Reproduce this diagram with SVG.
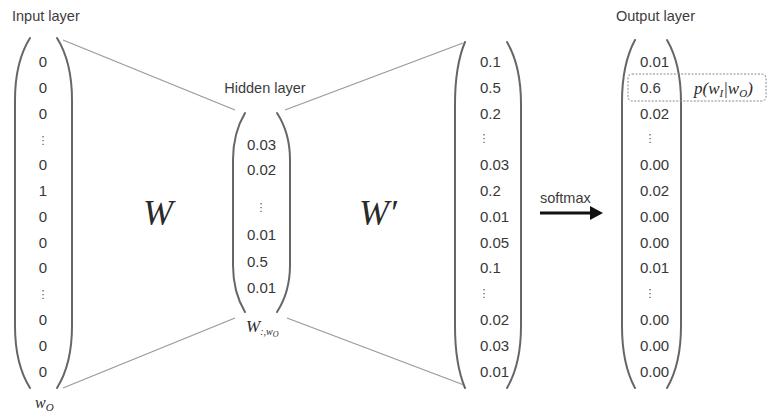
<svg xmlns="http://www.w3.org/2000/svg" width="769" height="413" viewBox="0 0 769 413">
<style>
.lbl{font-family:"Liberation Sans",Arial,sans-serif;font-size:14.5px;fill:#3c3c3c}
.v{font-family:"Liberation Sans",Arial,sans-serif;font-size:15px;fill:#383838}
.dots{font-family:"DejaVu Sans",sans-serif;font-size:11px;fill:#555}
.math{font-family:"Liberation Serif","Times New Roman",serif;font-style:italic;fill:#2a2a2a}
.paren{fill:none;stroke:#666;stroke-width:2;stroke-linecap:round}
.conn{fill:none;stroke:#9a9a9a;stroke-width:1.3}
</style>
<rect width="769" height="413" fill="#fff"/>
<g id="connectors">
<line class="conn" x1="63" y1="40" x2="235" y2="110"/>
<line class="conn" x1="63" y1="388" x2="235" y2="318"/>
<line class="conn" x1="285" y1="110" x2="463" y2="43"/>
<line class="conn" x1="287" y1="318" x2="464" y2="385"/>
<line x1="540" y1="213" x2="592" y2="213" stroke="#111" stroke-width="3"/>
<polygon points="590,206 603,213 590,220" fill="#111"/>
<text class="lbl" x="540" y="203">softmax</text>
</g>
<g id="input-layer">
<text class="lbl" x="12" y="21">Input layer</text>
<path class="paren" d="M30,38 Q15,62 15,100 L15,326 Q15,364 30,388"/>
<path class="paren" d="M57,38 Q72,62 72,100 L72,326 Q72,364 57,388"/>
<g class="v" text-anchor="middle">
<text x="43" y="67">0</text>
<text x="43" y="92.8">0</text>
<text x="43" y="118.6">0</text>
<text x="43" y="170.2">0</text>
<text x="43" y="196">1</text>
<text x="43" y="221.8">0</text>
<text x="43" y="247.6">0</text>
<text x="43" y="273.4">0</text>
<text x="43" y="325">0</text>
<text x="43" y="350.8">0</text>
<text x="43" y="376.6">0</text>
</g>
<text class="dots" x="43" y="144" text-anchor="middle">⋮</text>
<text class="dots" x="43" y="298" text-anchor="middle">⋮</text>
<text class="math" x="35" y="408" font-size="16">w<tspan font-size="11" dy="3">O</tspan></text>
</g>
<g id="weights">
<text class="math" x="143" y="225" font-size="36">W</text>
<text class="math" x="359" y="225" font-size="36">W′</text>
</g>
<g id="hidden-layer">
<text class="lbl" x="265" y="93" text-anchor="middle">Hidden layer</text>
<path class="paren" d="M245,113 Q233,133 233,160 L233,265 Q233,292 245,312"/>
<path class="paren" d="M277,113 Q290,133 290,160 L290,265 Q290,292 277,312"/>
<g class="v">
<text x="247" y="150">0.03</text>
<text x="247" y="175">0.02</text>
<text x="247" y="240">0.01</text>
<text x="247" y="267">0.5</text>
<text x="247" y="293">0.01</text>
</g>
<text class="dots" x="261" y="211" text-anchor="middle">⋮</text>
<text class="math" x="246" y="332" font-size="17">W<tspan font-size="10" dy="3">:,w</tspan><tspan font-size="8" dy="2">O</tspan></text>
</g>
<g id="score-vector">
<path class="paren" d="M465,42 Q455,66 455,104 L455,326 Q455,364 465,388"/>
<path class="paren" d="M507,42 Q521,66 521,104 L521,326 Q521,364 507,388"/>
<g class="v">
<text x="480" y="67">0.1</text>
<text x="480" y="92.8">0.5</text>
<text x="480" y="118.6">0.2</text>
<text x="480" y="170.2">0.03</text>
<text x="480" y="196">0.2</text>
<text x="480" y="221.8">0.01</text>
<text x="480" y="247.6">0.05</text>
<text x="480" y="273.4">0.1</text>
<text x="480" y="325">0.02</text>
<text x="480" y="350.8">0.03</text>
<text x="480" y="376.6">0.01</text>
</g>
<text class="dots" x="484" y="142" text-anchor="middle">⋮</text>
<text class="dots" x="484" y="297" text-anchor="middle">⋮</text>
</g>
<g id="output-layer">
<text class="lbl" x="616" y="21">Output layer</text>
<path class="paren" d="M635,40 Q622,64 622,102 L622,326 Q622,364 635,388"/>
<path class="paren" d="M667,40 Q681,64 681,102 L681,326 Q681,364 667,388"/>
<g class="v">
<text x="640" y="67">0.01</text>
<text x="640" y="92.8">0.6</text>
<text x="640" y="118.6">0.02</text>
<text x="640" y="170.2">0.00</text>
<text x="640" y="196">0.02</text>
<text x="640" y="221.8">0.00</text>
<text x="640" y="247.6">0.00</text>
<text x="640" y="273.4">0.01</text>
<text x="640" y="325">0.00</text>
<text x="640" y="350.8">0.00</text>
<text x="640" y="376.6">0.00</text>
</g>
<text class="dots" x="650" y="142" text-anchor="middle">⋮</text>
<text class="dots" x="650" y="297" text-anchor="middle">⋮</text>
</g>
<g id="highlight">
<rect x="628" y="74" width="138" height="27" rx="4" fill="none" stroke="#888" stroke-width="1" stroke-dasharray="2,1.5"/>
<text class="math" x="694" y="94" font-size="17">p(w<tspan font-size="11" dy="3">I</tspan><tspan dy="-3">|w</tspan><tspan font-size="11" dy="3">O</tspan><tspan dy="-3">)</tspan></text>
</g>
</svg>
